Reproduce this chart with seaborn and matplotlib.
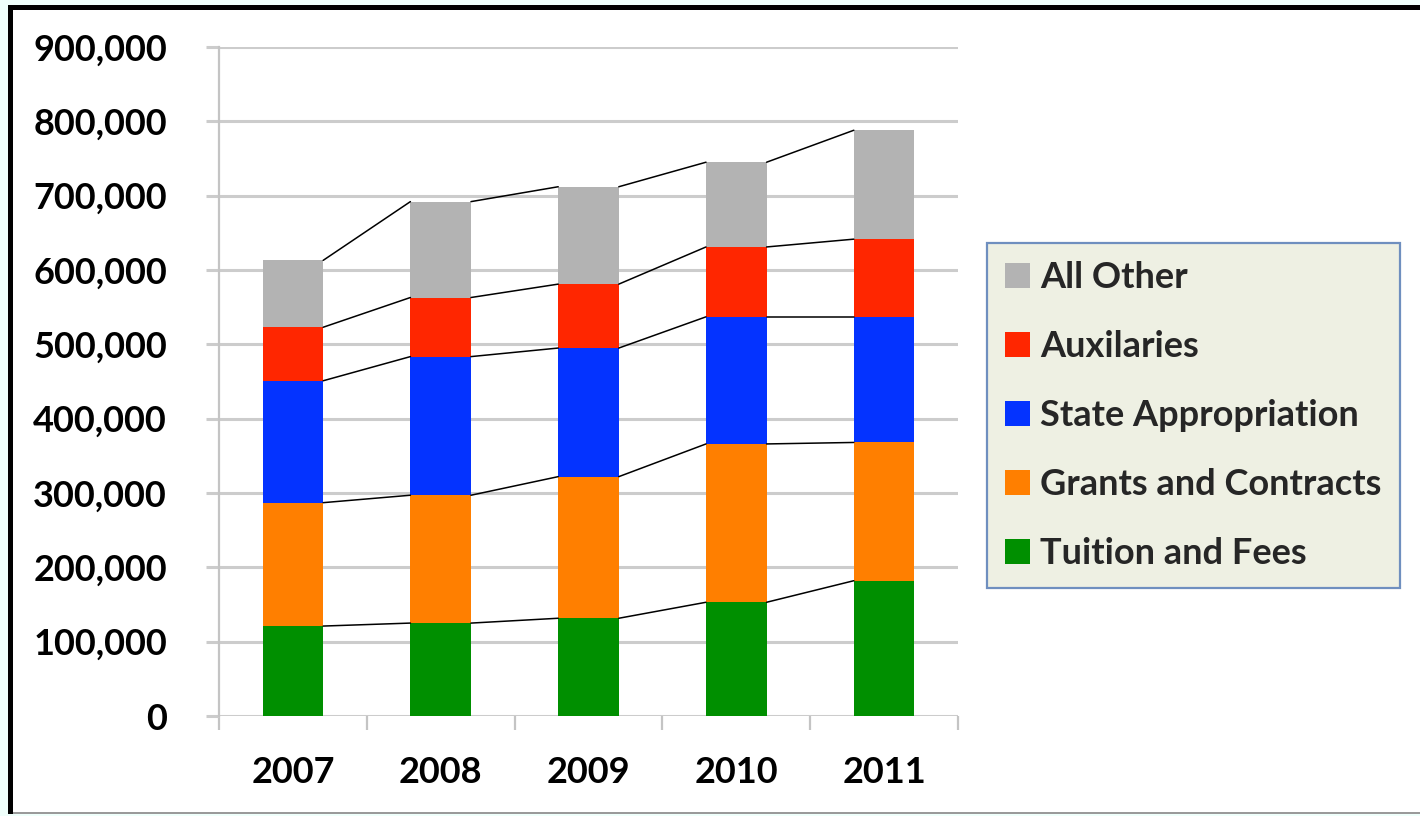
import numpy as np
import pandas as pd
import matplotlib
matplotlib.use('Agg')
import matplotlib.pyplot as plt
import seaborn as sns
from matplotlib.patches import Rectangle, Patch

# Date
years = ['2007', '2008', '2009', '2010', '2011']
tuition = [121000, 125000, 131500, 153000, 182000]
grants = [166000, 172000, 190500, 213000, 186000]
state = [164000, 186500, 173000, 171000, 169000]
auxilaries = [72000, 79500, 86000, 94000, 104500]
all_other = [90000, 129000, 131000, 114000, 146500]

series_names = ['Tuition and Fees', 'Grants and Contracts', 'State Appropriation', 'Auxilaries', 'All Other']
series_colors = ['#008f00', '#ff7f00', '#0433ff', '#ff2600', '#b3b3b3']
y_ticks = [0, 100000, 200000, 300000, 400000, 500000, 600000, 700000, 800000, 900000]

df = pd.DataFrame({'year': years,
                   'Tuition and Fees': tuition,
                   'Grants and Contracts': grants,
                   'State Appropriation': state,
                   'Auxilaries': auxilaries,
                   'All Other': all_other})
cum = df[series_names].cumsum(axis=1)
cum['year'] = df['year']

sns.set_theme(style='white')
plt.rcParams['font.family'] = ['Lato', 'DejaVu Sans']
plt.rcParams['font.weight'] = 'bold'

W, H = 1420, 816
fig = plt.figure(figsize=(W / 100, H / 100), dpi=100, facecolor='#effffb')

# ramă (fundal alb, margine neagră sus și stânga)
fig.patches.append(Rectangle((8 / W, 2 / H), 1, 1 - 7 / H, transform=fig.transFigure,
                             facecolor='white', edgecolor='none', zorder=-10))
fig.patches.append(Rectangle((8 / W, 1 - 10 / H), 1, 5 / H, transform=fig.transFigure,
                             facecolor='black', edgecolor='none', zorder=-5))
fig.patches.append(Rectangle((8 / W, 2 / H), 5 / W, 1 - 7 / H, transform=fig.transFigure,
                             facecolor='black', edgecolor='none', zorder=-5))
fig.patches.append(Rectangle((13 / W, 2 / H), 1, 2 / H, transform=fig.transFigure,
                             facecolor='#9a9a9a', edgecolor='none', zorder=-5))

ax = fig.add_axes([219 / W, 1 - 716 / H, (958 - 219) / W, (716 - 47) / H])
ax.set_facecolor('none')

bar_w = 0.41
# bare stivuite: se desenează totalurile cumulative de sus în jos
for name, color in reversed(list(zip(series_names, series_colors))):
    sns.barplot(data=cum, x='year', y=name, color=color, saturation=1, width=bar_w,
                linewidth=0, errorbar=None, ax=ax, zorder=3)

# linii de serie între bare
for name in series_names:
    vals = cum[name].values
    for i in range(len(vals) - 1):
        ax.plot([i + bar_w / 2, i + 1 - bar_w / 2], [vals[i], vals[i + 1]],
                color='black', lw=1.1, zorder=4)

ax.set_xlim(-0.5, 4.5)
ax.set_ylim(0, 900000)
ax.set_yticks(y_ticks)
ax.set_yticklabels([f'{v:,}' for v in y_ticks])
ax.set_xticks(range(len(years)))
ax.set_xticks(np.arange(-0.5, len(years), 1.0), minor=True)
ax.set_xlabel('')
ax.set_ylabel('')

ax.set_axisbelow(True)
ax.yaxis.grid(True, color='#cccccc', lw=2.2)
ax.xaxis.grid(False)
for s in ['top', 'right', 'bottom']:
    ax.spines[s].set_visible(False)
ax.spines['left'].set_color('#c4c4c4')
ax.spines['left'].set_linewidth(1.6)

ax.tick_params(axis='y', left=True, length=9.5, width=2.2, color='#cccccc', pad=28,
               labelsize=26, labelcolor='black')
ax.tick_params(axis='x', which='major', bottom=True, length=0, pad=29, labelsize=26,
               labelcolor='black')
ax.tick_params(axis='x', which='minor', bottom=True, length=10, width=1.6, color='#c4c4c4',
               direction='out')
for lab in ax.get_xticklabels() + ax.get_yticklabels():
    lab.set_fontweight('bold')

handles = [Patch(facecolor=c, edgecolor='none') for c in series_colors][::-1]
leg = ax.legend(handles, series_names[::-1], loc='center left',
                bbox_to_anchor=(987 / W, 1 - 415.5 / H), bbox_transform=fig.transFigure,
                prop={'size': 26, 'weight': 'bold'}, frameon=True, fancybox=False,
                facecolor='#eef0e3', edgecolor='#6f8fbf', framealpha=1,
                handlelength=0.68, handleheight=0.68, handletextpad=0.3,
                labelspacing=1.0, borderpad=0.5, borderaxespad=0)
leg.get_frame().set_linewidth(1.6)

fig.savefig('out.png', dpi=100, facecolor=fig.get_facecolor())
